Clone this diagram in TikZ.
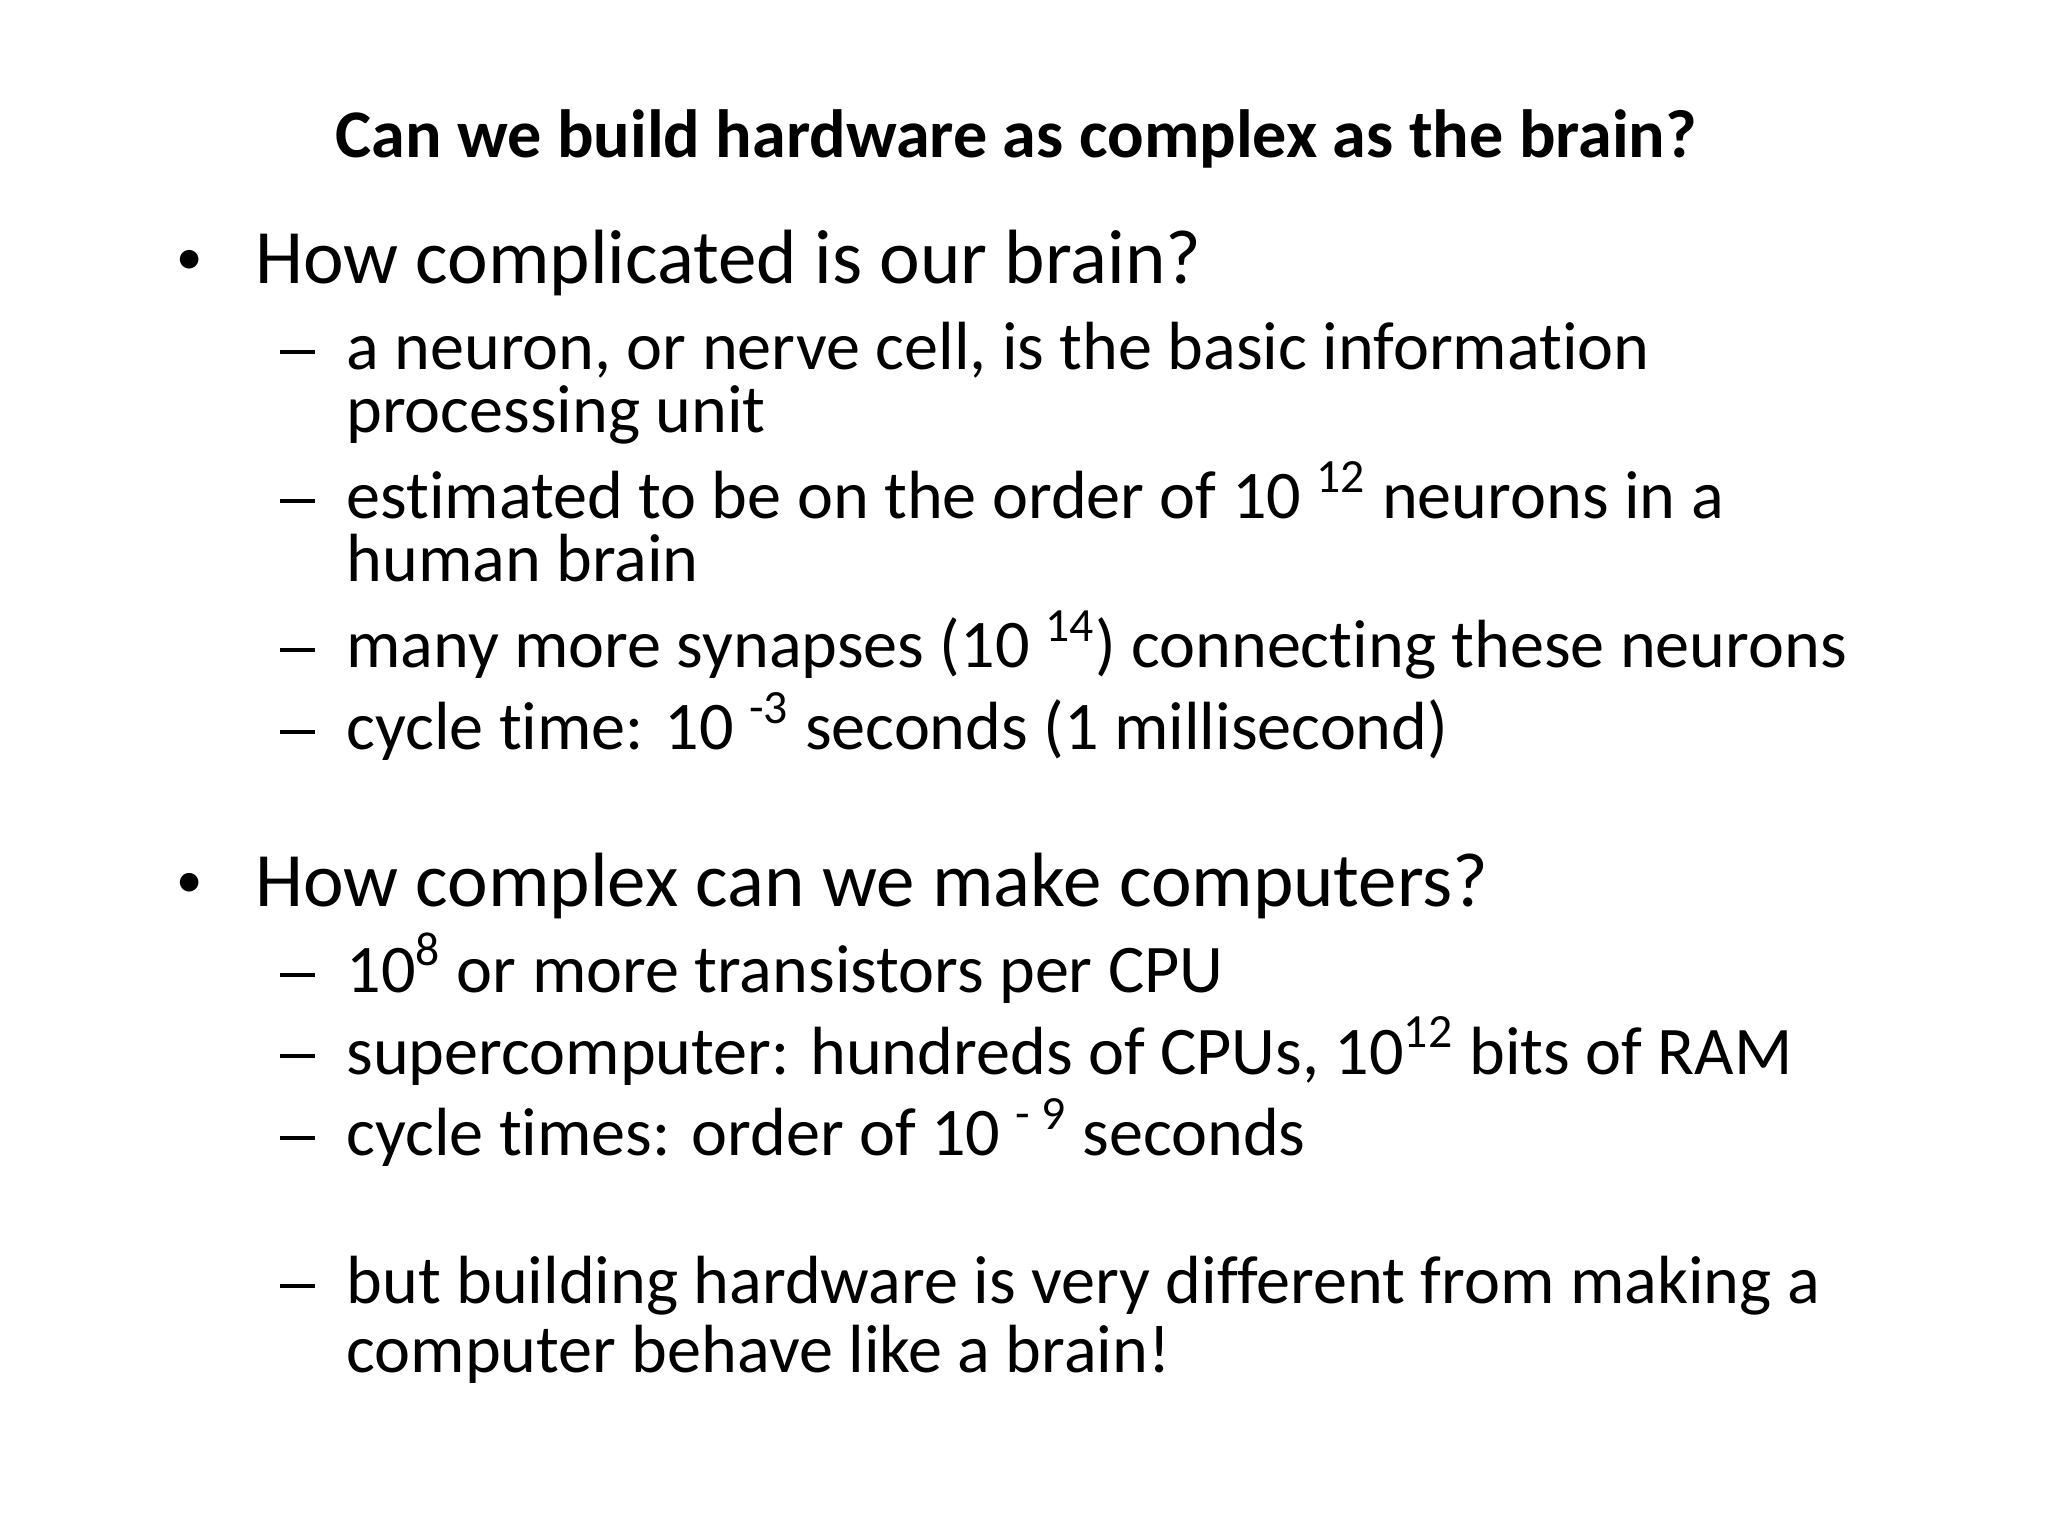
\documentclass[tikz,border=0pt]{standalone}
\usepackage{fontspec}
\setmainfont{Carlito}[Ligatures=NoCommon]
\begin{document}
\begin{tikzpicture}[x=0.013196cm,y=-0.013196cm,
 t/.style={anchor=base west,inner sep=0pt},
 lone/.style={t,font=\fontsize{21.9}{26}\selectfont},
 ltwo/.style={t,font=\fontsize{19.4}{23}\selectfont}]
\fill[white] (0,0) rectangle (1552,1164);
\node[anchor=base,inner sep=0pt,font=\fontsize{19.4}{23}\bfseries\selectfont] (title) at (770,119) {Can we build hardware as complex as the brain?};
\node[lone] (b1) at (133,215) {\raisebox{0.12em}{\fontsize{15}{15}\selectfont•}};
\node[lone] (h1) at (193,215) {How complicated is our brain?};
\foreach \y/\n in {280/d1,393/d2,506/d3,568/d4,752/d5,814/d6,876/d7,988/d8}
  \node[ltwo] (\n) at (212,\y) {\rule[0.23em]{0.5em}{0.06em}};
\node[ltwo] (s1) at (262,280) {a neuron, or nerve cell, is the basic information};
\node[ltwo] (s1b) at (262,328) {processing unit};
\node[ltwo] (s2) at (262,393) {estimated to be on the order of 10 \textsuperscript{12} neurons in a};
\node[ltwo] (s2b) at (262,441) {human brain};
\node[ltwo] (s3) at (262,506) {many more synapses (10 \textsuperscript{14}) connecting these neurons};
\node[ltwo] (s4) at (262,568) {cycle time: 10 \textsuperscript{-3} seconds (1 millisecond)};
\node[lone] (b2) at (133,687) {\raisebox{0.12em}{\fontsize{15}{15}\selectfont•}};
\node[lone] (h2) at (193,687) {How complex can we make computers?};
\node[ltwo] (s5) at (262,752) {10\textsuperscript{8} or more transistors per CPU};
\node[ltwo] (s6) at (262,814) {supercomputer: hundreds of CPUs, 10\textsuperscript{12} bits of RAM};
\node[ltwo] (s7) at (262,876) {cycle times: order of 10 \textsuperscript{- 9} seconds};
\node[ltwo] (s8) at (262,988) {but building hardware is very different from making a};
\node[ltwo] (s8b) at (262,1040) {computer behave like a brain!};
\end{tikzpicture}
\end{document}
